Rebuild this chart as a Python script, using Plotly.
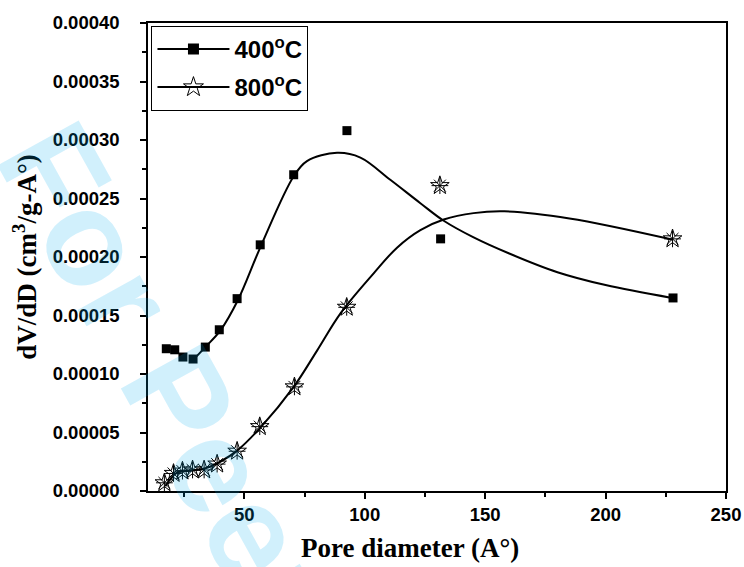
import plotly.graph_objects as go

# ---- data ----
pore_400 = [17.6, 21.1, 24.5, 28.7, 33.8, 39.6, 47.0, 56.6, 70.5, 92.6, 131.5, 228.0]
dvdd_400 = [1.216e-4, 1.207e-4, 1.145e-4, 1.128e-4, 1.230e-4, 1.378e-4, 1.644e-4,
            2.104e-4, 2.703e-4, 3.080e-4, 2.155e-4, 1.650e-4]

pore_800 = [16.8, 20.6, 24.3, 28.5, 33.3, 38.7, 47.0, 56.4, 70.8, 92.5, 131.2, 227.8]
dvdd_800 = [0.70e-5, 1.50e-5, 1.70e-5, 1.80e-5, 1.80e-5, 2.30e-5, 3.40e-5,
            5.50e-5, 8.90e-5, 1.570e-4, 2.610e-4, 2.155e-4]

# fitted (smooth) curves, sampled along the drawn lines
fit400_x = [28.7, 33.8, 40.0, 47.3, 57.0, 70.5, 76.0, 88.5, 98.2, 110.6, 123.1,
            132.8, 145.0, 160.0, 180.0, 200.0, 227.6]
fit400_y = [1.12e-4, 1.23e-4, 1.37e-4, 1.63e-4, 2.10e-4, 2.69e-4, 2.82e-4, 2.89e-4,
            2.85e-4, 2.66e-4, 2.46e-4, 2.31e-4, 2.17e-4, 2.03e-4, 1.87e-4, 1.76e-4,
            1.65e-4]

fit800_x = [17.2, 22.0, 27.6, 33.8, 40.0, 47.0, 56.6, 70.5, 80.2, 90.0, 103.7, 113.4,
            123.1, 132.8, 145.2, 158.0, 185.0, 227.6]
fit800_y = [0.40e-5, 1.57e-5, 1.74e-5, 1.94e-5, 2.50e-5, 3.45e-5, 5.40e-5, 8.90e-5,
            1.20e-4, 1.52e-4, 1.86e-4, 2.08e-4, 2.23e-4, 2.32e-4, 2.375e-4, 2.39e-4,
            2.33e-4, 2.15e-4]

legend_names = ["400<sup>o</sup>C", "800<sup>o</sup>C"]
x_ticks = [50, 100, 150, 200, 250]
x_title = "Pore diameter (A°)"
y_title = "dV/dD (cm<sup>3</sup>/g-A°)"

fig = go.Figure()

# fit lines
fig.add_trace(go.Scatter(x=fit400_x, y=fit400_y, mode="lines", line_shape="spline",
                         line=dict(color="black", width=2), showlegend=False))
fig.add_trace(go.Scatter(x=fit800_x, y=fit800_y, mode="lines", line_shape="spline",
                         line=dict(color="black", width=2), showlegend=False))
# data points
fig.add_trace(go.Scatter(x=pore_400, y=dvdd_400, mode="markers",
                         marker=dict(symbol="square", size=9, color="black"),
                         showlegend=False))
fig.add_trace(go.Scatter(x=pore_800, y=dvdd_800, mode="markers",
                         marker=dict(symbol="star-open", size=14, color="black",
                                     line=dict(width=1, color="black")),
                         showlegend=False))
fig.add_trace(go.Scatter(x=pore_800, y=dvdd_800, mode="markers",
                         marker=dict(symbol="asterisk-open", size=14, color="black",
                                     line=dict(width=1, color="black")),
                         showlegend=False))
# legend entries
fig.add_trace(go.Scatter(x=[None], y=[None], mode="lines+markers", name=legend_names[0],
                         legendgroup="a",
                         line=dict(color="black", width=2),
                         marker=dict(symbol="square", size=11, color="black")))
fig.add_trace(go.Scatter(x=[None], y=[None], mode="lines+markers", name=legend_names[1],
                         legendgroup="b",
                         line=dict(color="black", width=2),
                         marker=dict(symbol="star-open", size=15, color="black",
                                     line=dict(width=1, color="black"))))

tick_font = dict(family="Liberation Sans, Arial, sans-serif", size=18.5, color="black",
                 weight="bold")
title_font = dict(family="Liberation Serif, Times New Roman, serif", size=27,
                  color="black", weight="bold")

fig.update_layout(
    width=744, height=567,
    margin=dict(l=148, r=18, t=23, b=76),
    paper_bgcolor="white", plot_bgcolor="rgba(0,0,0,0)",
    legend=dict(x=0.006, y=0.994, xanchor="left", yanchor="top",
                bgcolor="white", bordercolor="black", borderwidth=1,
                font=dict(family="Liberation Sans, Arial, sans-serif", size=24,
                          color="black", weight="bold"),
                itemwidth=72, traceorder="grouped", tracegroupgap=4),
    xaxis=dict(range=[10, 250], tickvals=x_ticks, ticks="outside", ticklen=6,
               tickwidth=1.5, tickcolor="black", showline=True, linecolor="black",
               linewidth=1.5, mirror=True, showgrid=False, zeroline=False,
               automargin=False,
               tickfont=tick_font, ticklabelstandoff=0,
               minor=dict(dtick=25, tick0=0, ticks="outside", ticklen=4,
                          tickwidth=1.5, tickcolor="black", showgrid=False)),
    yaxis=dict(range=[0, 0.0004], dtick=0.00005, tickformat=".5f", ticks="outside",
               ticklen=6, tickwidth=1.5, tickcolor="black", showline=True,
               linecolor="black", linewidth=1.5, mirror=True, showgrid=False,
               zeroline=False, automargin=False, tickfont=tick_font,
               ticklabelstandoff=17,
               minor=dict(dtick=0.000025, ticks="outside", ticklen=4, tickwidth=1.5,
                          tickcolor="black", showgrid=False),
               title=dict(text=y_title, font=title_font, standoff=8)),
    annotations=[
        dict(text="For Peer Review", xref="paper", yref="paper",
             x=0.243, y=-0.221, xanchor="center", yanchor="middle",
             textangle=61, showarrow=False,
             font=dict(family="Liberation Sans, Arial, sans-serif", size=135,
                       color="rgba(0,174,239,0.18)", weight="bold")),
        dict(text=x_title, xref="paper", yref="paper", x=0.453, y=-0.122,
             xanchor="center", yanchor="middle", showarrow=False, font=title_font),
    ],
)

fig.write_html("out.html")
